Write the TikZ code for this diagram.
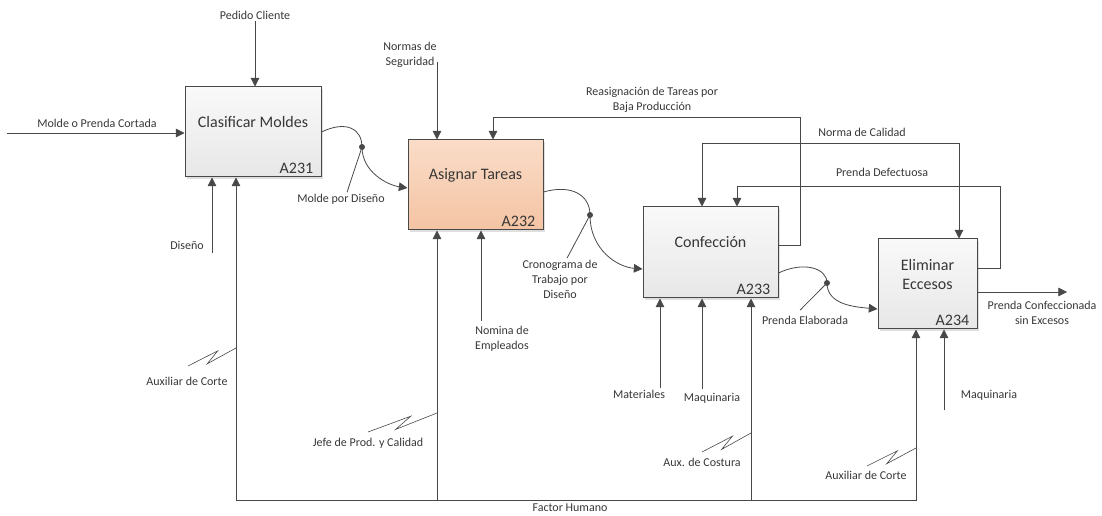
\documentclass[tikz,border=0pt]{standalone}
\usepackage{fontspec}
\setmainfont{Carlito}
\usetikzlibrary{arrows.meta,calc,shadows,math}

\definecolor{lncol}{RGB}{72,72,72}
\definecolor{txtcol}{RGB}{55,55,55}
\definecolor{boxtop}{RGB}{249,249,249}
\definecolor{boxbot}{RGB}{231,231,231}
\definecolor{hltop}{RGB}{250,220,200}
\definecolor{hlbot}{RGB}{244,196,163}

\tikzset{
  box/.style={draw=lncol, line width=0.75pt, top color=boxtop, bottom color=boxbot,
    minimum width=101.25pt, minimum height=67.5pt,
    drop shadow={opacity=0.25, shadow xshift=1.5pt, shadow yshift=-1.5pt}},
  hlbox/.style={box, top color=hltop, bottom color=hlbot},
  ttl/.style={font=\fontsize{12}{14.5}\selectfont, text=txtcol, align=center},
  code/.style={font=\fontsize{12}{14}\selectfont, text=txtcol, inner sep=0pt, anchor=base east},
  lbl/.style={font=\fontsize{9}{11.25}\selectfont, text=txtcol, align=center, inner sep=1pt},
  ln/.style={draw=lncol, line width=0.6pt},
  arr/.style={ln, -{Triangle[length=6.5pt,width=6.5pt]}},
  dbl/.style={ln, {Triangle[length=6.5pt,width=6.5pt]}-{Triangle[length=6.5pt,width=6.5pt]}},
  dot/.style={circle, fill=lncol, inner sep=0pt, minimum size=4.5pt},
}
\newcommand\zap[2]{\draw[ln, line width=0.45pt] (#1) -- ($(#1)!0.62!(#2)+(0,-4)$) -- ($(#1)!0.4!(#2)+(0,5)$) -- (#2);}

\begin{document}
\begin{tikzpicture}[x=0.75pt, y=-0.75pt]
\useasboundingbox (0,0) rectangle (1102,516);
\tikzmath{\fhy = 500;}

\node[box, minimum width=102pt] (a231) at (253,132) {};
\node[hlbox] (a232) at (475.5,185) {};
\node[box, minimum height=68.25pt] (a233) at (710.5,252.5) {};
\node[box, minimum width=74.25pt] (a234) at (927.5,284) {};

\node[ttl] (t231) at ($(a231.north)+(0,36)$) {Clasificar Moldes};
\node[ttl] (t232) at ($(a232.north)+(0,36)$) {Asignar Tareas};
\node[ttl] (t233) at ($(a233.north)+(0,36)$) {Confección};
\node[ttl] (t234) at ($(a234.north)+(0,36)$) {Eliminar\\Eccesos};
\node[code] (c231) at ($(a231.south east)+(-8,-4)$) {A231};
\node[code] (c232) at ($(a232.south east)+(-8,-4)$) {A232};
\node[code] (c233) at ($(a233.south east)+(-8,-4)$) {A233};
\node[code] (c234) at ($(a234.south east)+(-8,-4)$) {A234};

\node[lbl] (pc) at (255,15) {Pedido Cliente};
\node[lbl] (mpc) at (97,123) {Molde o Prenda Cortada};
\node[lbl] (dis) at (187,245) {Diseño};
\node[lbl] (mpd) at (341,199) {Molde por Diseño};
\node[lbl] (ns) at (410,55) {Normas de\\Seguridad};
\node[lbl] (rtb) at (652,100) {Reasignación de Tareas por\\Baja Producción};
\node[lbl] (nc) at (862,132) {Norma de Calidad};
\node[lbl] (pd) at (882,172) {Prenda Defectuosa};
\node[lbl] (ctd) at (560,279) {Cronograma de\\Trabajo por\\Diseño};
\node[lbl] (pe) at (805,320) {Prenda Elaborada};
\node[lbl] (pcs) at (1042,313) {Prenda Confeccionada\\sin Excesos};
\node[lbl] (nom) at (502,339) {Nomina de\\Empleados};
\node[lbl] (mat) at (639,394) {Materiales};
\node[lbl] (mq1) at (712,398) {Maquinaria};
\node[lbl] (mq2) at (989,395) {Maquinaria};
\node[lbl] (ac1) at (187,381) {Auxiliar de Corte};
\node[lbl] (jpc) at (368,443) {Jefe de Prod. y Calidad};
\node[lbl] (adc) at (702,462) {Aux. de Costura};
\node[lbl] (ac2) at (866,475) {Auxiliar de Corte};
\node[lbl] (fh) at (570,508) {Factor Humano};

\coordinate (mpcin) at (7,133);
\coordinate (disb) at (212,253);
\coordinate (nsb) at (437,62);
\coordinate (rbend) at (800,117);
\coordinate (ncr) at (959,143);
\coordinate (pdbend) at (1000,186);
\coordinate (out) at (1067,292);
\coordinate (nomt) at (481,321);
\coordinate (matt) at (660,388);
\coordinate (mq1t) at (702,389);
\coordinate (mq2t) at (944,410);
\coordinate (fhl) at (236,\fhy);
\coordinate (fhr) at (916,\fhy);
\coordinate (fh2) at (437,\fhy);
\coordinate (fh3) at (751,\fhy);

\draw[arr] (mpcin) -- (mpcin -| a231.west);
\draw[arr] (pc.south) -- (pc.south |- a231.north);
\draw[arr] (disb) -- (disb |- a231.south);
\draw[arr] (nsb) -- (nsb |- a232.north);

\node[dot] (d1) at (362,147) {};
\draw[arr] (a231.east) .. controls +(25,-12) and +(0,-18) .. (d1.center)
  .. controls +(0,25) and +(-20,-3) .. ($(a232.west)+(0,3)$);
\draw[ln] (d1.center) -- ($(mpd.north)+(6,0)$);

\node[dot] (d2) at (590,215) {};
\draw[arr] ($(a232.east)+(0,7)$) .. controls +(28,-8) and +(0,-20) .. (d2.center)
  .. controls +(0,35) and +(-25,-2) .. ($(a233.west)+(0,16.5)$);
\draw[ln] (d2.center) -- ($(ctd.north)+(7,0)$);

\node[dot] (d3) at (827,283) {};
\draw[arr] ($(a233.east)+(0,20.5)$) .. controls +(25,-12) and +(0,-15) .. (d3.center)
  .. controls +(0,22) and +(-22,-2) .. ($(a234.west)+(0,25)$);
\draw[ln] (d3.center) -- ($(pe.north)+(-5,-4)$);

\draw[arr] ($(a233.east)+(0,-7.5)$) -| (rbend) -| ($(a232.north)+(17.5,0)$);
\draw[dbl] ($(a233.north)+(-8.5,0)$) |- (ncr) -- (ncr |- a234.north);
\draw[arr] ($(a234.east)+(0,-16)$) -| (pdbend) -| ($(a233.north)+(26.5,0)$);
\draw[arr] (a234.east |- out) -- (out);

\draw[arr] (nomt) -- (nomt |- a232.south);
\draw[arr] (matt) -- (matt |- a233.south);
\draw[arr] (mq1t) -- (mq1t |- a233.south);
\draw[arr] (mq2t) -- (mq2t |- a234.south);

\draw[dbl] (fhl |- a231.south) -- (fhl) -- (fhr) -- (fhr |- a234.south);
\draw[arr] (fh2) -- (fh2 |- a232.south);
\draw[arr] (fh3) -- (fh3 |- a233.south);

\zap{188,366}{236,348}
\zap{368,432}{437,413}
\zap{702,452}{751,433}
\zap{867,466}{916,448}
\end{tikzpicture}
\end{document}
